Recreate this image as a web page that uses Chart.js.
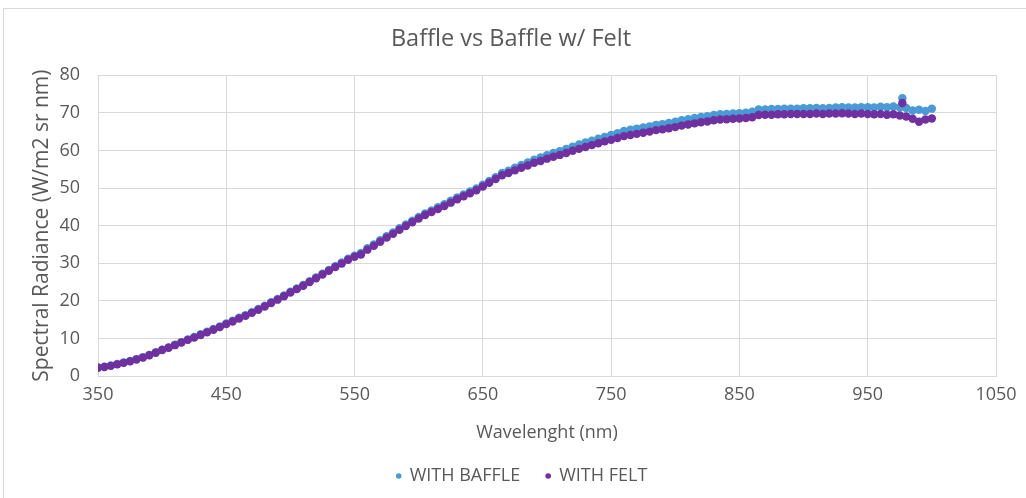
<!DOCTYPE html>
<html>
<head>
<meta charset="utf-8">
<title>Baffle vs Baffle w/ Felt</title>
<script src="https://cdn.jsdelivr.net/npm/chart.js@4.4.1/dist/chart.umd.min.js"></script>
<style>
    html, body { margin: 0; padding: 0; background: #ffffff; }
    #wrap { width: 1026px; height: 498px; position: relative; }
</style>
</head>
<body>
<div id="wrap"><canvas id="myChart" width="1026" height="498"></canvas></div>
<script>
// wavelength (nm)
var wavelengths = [
    350, 355, 360, 365, 370, 375, 380, 385, 390, 395,
    400, 405, 410, 415, 420, 425, 430, 435, 440, 445,
    450, 455, 460, 465, 470, 475, 480, 485, 490, 495,
    500, 505, 510, 515, 520, 525, 530, 535, 540, 545,
    550, 555, 560, 565, 570, 575, 580, 585, 590, 595,
    600, 605, 610, 615, 620, 625, 630, 635, 640, 645,
    650, 655, 660, 665, 670, 675, 680, 685, 690, 695,
    700, 705, 710, 715, 720, 725, 730, 735, 740, 745,
    750, 755, 760, 765, 770, 775, 780, 785, 790, 795,
    800, 805, 810, 815, 820, 825, 830, 835, 840, 845,
    850, 855, 860, 865, 870, 875, 880, 885, 890, 895,
    900, 905, 910, 915, 920, 925, 930, 935, 940, 945,
    950, 955, 960, 965, 970, 975, 977, 980, 985, 990,
    995, 1000
];

var withBaffle = [
    2.3, 2.5, 2.8, 3.2, 3.6, 4.0, 4.5, 5.0, 5.6, 6.3,
    7.0, 7.6, 8.3, 9.0, 9.7, 10.4, 11.1, 11.8, 12.5, 13.2,
    14.0, 14.7, 15.5, 16.2, 17.0, 17.8, 18.7, 19.6, 20.5, 21.4,
    22.4, 23.3, 24.2, 25.2, 26.2, 27.2, 28.2, 29.2, 30.2, 31.2,
    32.0, 32.7, 34.0, 35.0, 36.1, 37.2, 38.2, 39.3, 40.3, 41.3,
    42.3, 43.2, 44.0, 44.9, 45.7, 46.6, 47.5, 48.3, 49.1, 49.9,
    50.9, 51.9, 52.9, 54.0, 54.6, 55.4, 56.1, 56.8, 57.5, 58.1,
    58.7, 59.3, 59.8, 60.4, 61.0, 61.6, 62.1, 62.6, 63.1, 63.6,
    64.1, 64.6, 65.2, 65.5, 65.8, 66.1, 66.4, 66.8, 67.0, 67.3,
    67.6, 68.0, 68.3, 68.6, 68.9, 69.1, 69.4, 69.6, 69.7, 69.8,
    69.9, 70.0, 70.3, 70.9, 70.9, 71.0, 71.0, 71.1, 71.1, 71.1,
    71.2, 71.2, 71.3, 71.2, 71.3, 71.4, 71.5, 71.4, 71.4, 71.5,
    71.5, 71.4, 71.6, 71.5, 71.7, 71.4, 73.9, 71.3, 70.6, 70.8,
    70.5, 71.1
];

var withFelt = [
    2.2, 2.4, 2.7, 3.1, 3.5, 3.9, 4.4, 4.9, 5.5, 6.2,
    6.9, 7.5, 8.2, 8.9, 9.6, 10.2, 10.9, 11.6, 12.3, 13.0,
    13.8, 14.5, 15.3, 16.0, 16.8, 17.6, 18.5, 19.4, 20.3, 21.2,
    22.2, 23.1, 24.0, 25.0, 26.0, 27.0, 28.0, 29.0, 29.9, 30.9,
    31.7, 32.3, 33.6, 34.6, 35.7, 36.8, 37.8, 38.9, 39.9, 40.9,
    41.9, 42.8, 43.6, 44.4, 45.2, 46.1, 47.0, 47.8, 48.6, 49.4,
    50.4, 51.4, 52.4, 53.4, 54.0, 54.7, 55.4, 56.0, 56.7, 57.2,
    57.8, 58.3, 58.8, 59.3, 59.9, 60.4, 60.9, 61.4, 61.9, 62.4,
    62.8, 63.3, 63.8, 64.1, 64.4, 64.7, 65.0, 65.4, 65.6, 65.9,
    66.2, 66.6, 66.9, 67.2, 67.5, 67.7, 68.0, 68.2, 68.3, 68.4,
    68.5, 68.6, 68.8, 69.4, 69.5, 69.5, 69.6, 69.6, 69.7, 69.7,
    69.7, 69.7, 69.8, 69.7, 69.8, 69.8, 69.9, 69.8, 69.7, 69.8,
    69.7, 69.6, 69.7, 69.5, 69.6, 69.3, 72.6, 69.0, 68.4, 67.6,
    68.2, 68.5
];

var xTicks = [350, 450, 550, 650, 750, 850, 950, 1050];
var yTicks = [0, 10, 20, 30, 40, 50, 60, 70, 80];

window.addEventListener('DOMContentLoaded', function() {
    function toPoints(xs, ys) {
        var pts = [];
        for (var i = 0; i < xs.length; i++) {
            pts.push({x: xs[i], y: ys[i]});
        }
        return pts;
    }

    var textColor = '#595959';
    var gridColor = '#d9d9d9';
    var font = 'Open Sans';

    // light frame round the chart, like the Excel chart border
    var framePlugin = {
        id: 'frame',
        beforeDraw: function(chart) {
            var c = chart.ctx;
            c.save();
            c.fillStyle = '#ffffff';
            c.fillRect(0, 0, chart.width, chart.height);
            c.strokeStyle = '#d9d9d9';
            c.lineWidth = 1;
            c.strokeRect(3.5, 8.5, chart.width + 10, chart.height + 10);
            c.restore();
        }
    };

    // excel style legend: small dots, wide gap between entries
    var legendPlugin = {
        id: 'xlLegend',
        afterDraw: function(chart) {
            var c = chart.ctx;
            var sets = chart.data.datasets;
            var y = 476, dotGap = 11, itemGap = 28;
            c.save();
            c.font = '18px "' + font + '"';
            c.textBaseline = 'middle';
            var total = 0;
            sets.forEach(function(ds, i) {
                total += dotGap + c.measureText(ds.label).width + (i < sets.length - 1 ? itemGap : 0);
            });
            var x = 523 - total / 2;
            sets.forEach(function(ds) {
                c.fillStyle = ds.backgroundColor;
                c.beginPath();
                c.arc(x, y, 2.8, 0, Math.PI * 2);
                c.fill();
                c.fillStyle = textColor;
                c.fillText(ds.label, x + dotGap, y);
                x += dotGap + c.measureText(ds.label).width + itemGap;
            });
            c.restore();
        }
    };

    var ctx = document.getElementById('myChart');
    var myChart = new Chart(ctx, {
        type: 'scatter',
        data: {
            datasets: [{
                label: 'WITH BAFFLE',
                data: toPoints(wavelengths, withBaffle),
                backgroundColor: '#4a9ad5',
                borderColor: '#4a9ad5',
                pointRadius: 4.2,
                borderWidth: 0,
                order: 2
            }, {
                label: 'WITH FELT',
                data: toPoints(wavelengths, withFelt),
                backgroundColor: '#7030a0',
                borderColor: '#7030a0',
                pointRadius: 4.2,
                borderWidth: 0,
                order: 1
            }]
        },
        options: {
            responsive: false,
            animation: false,
            layout: {
                padding: {left: 26, right: 30, top: 0, bottom: 45}
            },
            plugins: {
                title: {
                    display: true,
                    text: 'Baffle vs Baffle w/ Felt',
                    color: textColor,
                    font: {family: font, size: 23.5, weight: 'normal'},
                    padding: {top: 25, bottom: 22}
                },
                legend: {display: false},
                tooltip: {enabled: false}
            },
            scales: {
                x: {
                    type: 'linear',
                    min: 350,
                    max: 1050,
                    afterBuildTicks: function(scale) {
                        scale.ticks = xTicks.map(function(v) { return {value: v}; });
                    },
                    afterFit: function(scale) { scale.height = 77; },
                    grid: {color: gridColor, drawTicks: false},
                    border: {color: gridColor},
                    ticks: {
                        color: textColor,
                        padding: 8,
                        font: {family: font, size: 18},
                        callback: function(v) { return String(v); }
                    },
                    title: {
                        display: true,
                        text: 'Wavelenght (nm)',
                        color: textColor,
                        font: {family: font, size: 18},
                        padding: {top: 0, bottom: 9}
                    }
                },
                y: {
                    min: 0,
                    max: 80,
                    afterBuildTicks: function(scale) {
                        scale.ticks = yTicks.map(function(v) { return {value: v}; });
                    },
                    afterFit: function(scale) { scale.width = 72; },
                    grid: {color: gridColor, drawTicks: false},
                    border: {display: false},
                    ticks: {
                        color: textColor,
                        padding: 18,
                        font: {family: font, size: 18},
                        callback: function(v) { return String(v); }
                    },
                    title: {
                        display: true,
                        text: 'Spectral Radiance (W/m2 sr nm)',
                        color: textColor,
                        font: {family: font, size: 21},
                        padding: {top: 3, bottom: 0}
                    }
                }
            }
        },
        plugins: [framePlugin, legendPlugin]
    });
});
</script>
</body>
</html>
